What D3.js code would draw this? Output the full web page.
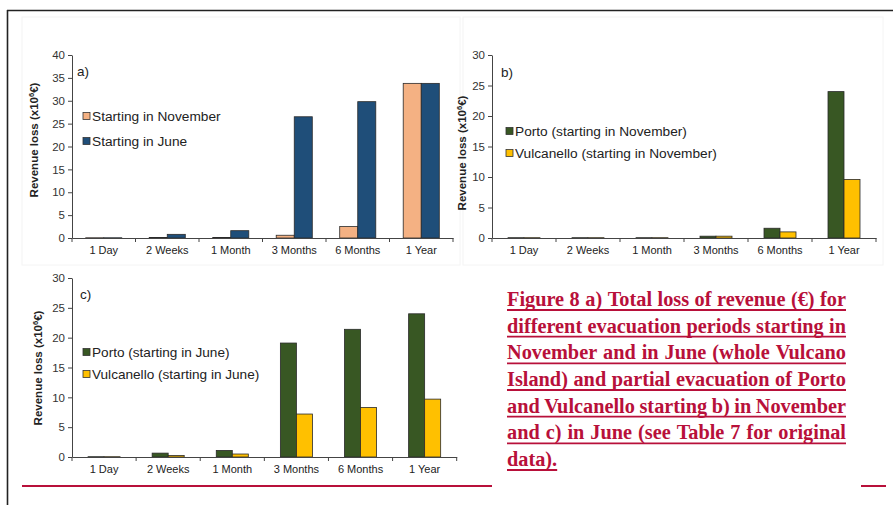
<!DOCTYPE html>
<html><head><meta charset="utf-8">
<script src="https://cdn.jsdelivr.net/npm/d3@7"></script>
<style>body{margin:0;background:#fff}svg{display:block}</style>
</head><body>
<svg id="c" width="893" height="505"></svg>
<script>
const categories = ["1 Day","2 Weeks","1 Month","3 Months","6 Months","1 Year"];
const seriesA = ["Starting in November","Starting in June"];
const nov = [0.05,0.1,0.1,0.6,2.5,33.8];
const jun = [0.05,0.8,1.6,26.5,29.8,33.8];
const seriesB = ["Porto (starting in November)","Vulcanello (starting in November)"];
const portoNov = [0.05,0.05,0.05,0.3,1.6,24.0];
const vulcNov = [0.05,0.05,0.05,0.3,1.0,9.6];
const seriesC = ["Porto (starting in June)","Vulcanello (starting in June)"];
const portoJun = [0.05,0.65,1.1,19.1,21.4,24.0];
const vulcJun = [0.05,0.25,0.5,7.2,8.3,9.7];
const ticksA = [0,5,10,15,20,25,30,35,40];
const ticksBC = [0,5,10,15,20,25,30];
const captionLines = [
 "Figure 8 a) Total loss of revenue (\u20AC) for",
 "different evacuation periods starting in",
 "November and in June (whole Vulcano",
 "Island) and partial evacuation of Porto",
 "and Vulcanello starting b) in November",
 "and c) in June (see Table 7 for original",
 "data)."
];

const svg = d3.select("#c");
const FONT = "'Liberation Sans', Arial, sans-serif";

// frame
svg.append("line").attr("x1",7).attr("x2",893).attr("y1",10.5).attr("y2",10.5).attr("stroke","#222").attr("stroke-width",1.6);
svg.append("line").attr("x1",7.5).attr("x2",7.5).attr("y1",10).attr("y2",505).attr("stroke","#222").attr("stroke-width",1.6);
// faint panel boxes
svg.append("rect").attr("x",22).attr("y",17).attr("width",438).attr("height",248).attr("fill","none").attr("stroke","#f4f4f4");
svg.append("rect").attr("x",463).attr("y",17).attr("width",420).attr("height",248).attr("fill","none").attr("stroke","#f4f4f4");

function panel(o){
  const g = svg.append("g");
  const x = d3.scaleBand().domain(categories).range([o.x0,o.x1]).padding(0);
  const xi = d3.scaleBand().domain(o.series).range([0,x.bandwidth()]).paddingInner(0).paddingOuter(o.po);
  const y = d3.scaleLinear().domain([0,o.max]).range([o.yb,o.yt]);
  const data = categories.map((c,i)=>({c, v:[o.v1[i],o.v2[i]]}));
  g.selectAll("g.grp").data(data).join("g").attr("transform",d=>`translate(${x(d.c)},0)`)
   .selectAll("rect").data(d=>d.v.map((v,j)=>({s:o.series[j],v,j}))).join("rect")
   .attr("x",d=>xi(d.s)).attr("width",xi.bandwidth())
   .attr("y",d=>y(d.v)).attr("height",d=>y(0)-y(d.v))
   .attr("fill",d=>o.colors[d.j]).attr("stroke","#2a2a2a").attr("stroke-width",0.8);
  const ya = g.append("g").attr("transform",`translate(${o.x0},0)`)
    .call(d3.axisLeft(y).tickValues(o.ticks).tickSize(4).tickPadding(3).tickSizeOuter(0));
  ya.select(".domain").attr("stroke","#444");
  ya.selectAll(".tick line").attr("stroke","#444");
  ya.selectAll("text").attr("font-family",FONT).attr("font-size",11.5).attr("fill","#333");
  const xa = g.append("g").attr("transform",`translate(0,${o.yb})`)
    .call(d3.axisBottom(x).tickSize(0).tickPadding(8));
  xa.select(".domain").attr("stroke","#444");
  xa.selectAll("text").attr("font-family",FONT).attr("font-size",11).attr("fill","#222");
  const bounds = categories.map(c=>x(c)).concat([o.x1]);
  g.selectAll("line.xt").data(bounds).join("line").attr("class","xt")
   .attr("x1",d=>d).attr("x2",d=>d).attr("y1",o.yb).attr("y2",o.yb+4).attr("stroke","#444");
  const lab = g.append("text").attr("transform",`translate(${o.lx},${o.ly}) rotate(-90)`)
    .attr("text-anchor","middle").attr("font-family",FONT).attr("font-weight","bold").attr("font-size",11.5).attr("fill","#222");
  lab.append("tspan").text(o.labPre);
  lab.append("tspan").text("6").attr("font-size",7.5).attr("dy",-4);
  lab.append("tspan").text("\u20AC)").attr("dy",4);
  g.append("text").attr("x",o.px).attr("y",o.py).text(o.letter).attr("font-family",FONT).attr("font-size",13.5).attr("fill","#222");
  o.series.forEach((s,j)=>{
    const cy = o.legY[j];
    g.append("rect").attr("x",o.legX).attr("y",cy-3.5).attr("width",7).attr("height",7)
      .attr("fill",o.colors[j]).attr("stroke","#333").attr("stroke-width",0.8);
    g.append("text").attr("x",o.legX+9).attr("y",cy).attr("dy","0.36em").text(s)
      .attr("font-family",FONT).attr("font-size",o.legFs).attr("fill","#222");
  });
}

panel({x0:72,x1:453,yt:55,yb:238,max:40,ticks:ticksA,series:seriesA,v1:nov,v2:jun,
  colors:["#f4b183","#1f4e79"],po:0.76,lx:38,ly:140,labPre:"Revenue loss (x10",
  letter:"a)",px:77,py:76,legX:83,legY:[116,141],legFs:13.7});
panel({x0:492,x1:876,yt:55,yb:238,max:30,ticks:ticksBC,series:seriesB,v1:portoNov,v2:vulcNov,
  colors:["#385723","#ffc000"],po:1,lx:466,ly:153,labPre:"Revenue  loss (x10",
  letter:"b)",px:501,py:77,legX:506,legY:[131,153],legFs:13.7});
panel({x0:72,x1:456.7,yt:278,yb:457,max:30,ticks:ticksBC,series:seriesC,v1:portoJun,v2:vulcJun,
  colors:["#385723","#ffc000"],po:1,lx:42,ly:368,labPre:"Revenue  loss (x10",
  letter:"c)",px:80,py:299,legX:83,legY:[352,374],legFs:13.6});

const RED = "#b8103a";
svg.append("line").attr("x1",22).attr("x2",492).attr("y1",486).attr("y2",486).attr("stroke",RED).attr("stroke-width",2);
svg.append("line").attr("x1",861).attr("x2",886).attr("y1",486).attr("y2",486).attr("stroke",RED).attr("stroke-width",2);

// caption, justified; font size fitted so lines fill width with ~normal spaces
const cx0 = 507, cx1 = 846, base0 = 306, lh = 26.67;
const cap = svg.append("g").attr("font-family","'Liberation Serif','Times New Roman',serif")
  .attr("font-weight","bold").attr("fill",RED);
const probe = cap.append("text").attr("font-size",18).text(captionLines[0]);
let fs = 18 * (cx1-cx0) / probe.node().getComputedTextLength() * 0.99;
probe.remove();
cap.attr("font-size",fs);
captionLines.forEach((line,i)=>{
  const words = line.split(" ");
  const yb = base0 + i*lh;
  const ts = words.map(w=>cap.append("text").attr("y",yb).text(w));
  const widths = ts.map(t=>t.node().getComputedTextLength());
  const total = d3.sum(widths);
  const last = i===captionLines.length-1;
  const gap = last ? fs*0.25 : (cx1-cx0-total)/(words.length-1);
  let xx = cx0;
  ts.forEach((t,k)=>{ t.attr("x",xx); xx += widths[k] + gap; });
  const endX = last ? xx - gap : cx1;
  svg.append("line").attr("x1",cx0).attr("x2",endX).attr("y1",yb+4).attr("y2",yb+4).attr("stroke",RED).attr("stroke-width",1.8);
});
</script>
</body></html>
